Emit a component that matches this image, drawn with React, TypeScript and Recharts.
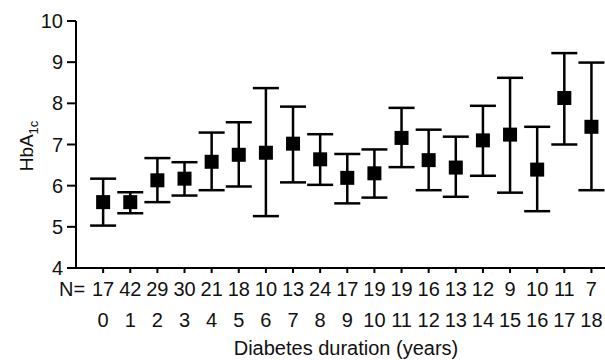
import React from "react";
import { ComposedChart, Scatter, ErrorBar, XAxis, YAxis } from "recharts";

// diabetes duration (years)
const durations = [0, 1, 2, 3, 4, 5, 6, 7, 8, 9, 10, 11, 12, 13, 14, 15, 16, 17, 18];
// number of patients per group
const counts = [17, 42, 29, 30, 21, 18, 10, 13, 24, 17, 19, 19, 16, 13, 12, 9, 10, 11, 7];
// mean HbA1c
const means = [5.6, 5.6, 6.13, 6.17, 6.58, 6.75, 6.8, 7.02, 6.64, 6.19, 6.3, 7.16, 6.62, 6.44, 7.1, 7.24, 6.39, 8.13, 7.43];
// error bar ends
const lows = [5.03, 5.33, 5.6, 5.76, 5.89, 5.98, 5.26, 6.08, 6.02, 5.57, 5.71, 6.45, 5.89, 5.73, 6.24, 5.83, 5.38, 7.0, 5.89];
const highs = [6.17, 5.84, 6.67, 6.57, 7.29, 7.54, 8.37, 7.92, 7.25, 6.77, 6.88, 7.89, 7.36, 7.19, 7.94, 8.62, 7.43, 9.22, 8.99];

const yTicks = [4, 5, 6, 7, 8, 9, 10];

const data = durations.map((d, i) => ({
  x: d,
  y: means[i],
  err: [means[i] - lows[i], highs[i] - means[i]],
}));

const FONT = "'Liberation Sans', Arial, Helvetica, sans-serif";

const Square = (props: any) => {
  const { cx, cy } = props;
  return <rect x={cx - 7} y={cy - 7} width={14} height={14} fill="#000" />;
};

const XTick = (props: any) => {
  const { x, y, index } = props;
  return (
    <g>
      {index === 0 && (
        <text x={x - 18} y={y + 23} textAnchor="end" fontSize={20} fill="#111" fontFamily={FONT}>
          N=
        </text>
      )}
      <text x={x} y={y + 23} textAnchor="middle" fontSize={20} fill="#111" fontFamily={FONT}>
        {counts[index]}
      </text>
      <text x={x} y={y + 54} textAnchor="middle" fontSize={20} fill="#111" fontFamily={FONT}>
        {durations[index]}
      </text>
    </g>
  );
};

const XTitle = (props: any) => {
  const { viewBox } = props;
  return (
    <text x={346} y={viewBox.y + 87} textAnchor="middle" fontSize={20} fill="#111" fontFamily={FONT}>
      Diabetes duration (years)
    </text>
  );
};

const YTitle = () => (
  <text transform="translate(33,146) rotate(-90)" textAnchor="middle" fontSize={19} fill="#111" fontFamily={FONT}>
    HbA<tspan fontSize={13} dy={5}>1c</tspan>
  </text>
);

export default function App() {
  return (
    <div style={{ position: "absolute", left: 0, top: 0, background: "#fff" }}>
      <ComposedChart width={605} height={360} data={data} margin={{ top: 21, right: 0, left: 0, bottom: 0 }}>
        <XAxis
          type="number"
          dataKey="x"
          domain={[-1, 18.5]}
          ticks={durations}
          interval={0}
          allowDataOverflow
          height={92}
          tickSize={5}
          tickMargin={0}
          tick={XTick}
          tickLine={{ stroke: "#000", strokeWidth: 2 }}
          axisLine={{ stroke: "#000", strokeWidth: 2 }}
          label={XTitle}
        />
        <YAxis
          type="number"
          domain={[4, 10]}
          ticks={yTicks}
          width={76}
          tickSize={9}
          tickMargin={4}
          tick={{ fontSize: 20, fill: "#111", fontFamily: FONT }}
          tickLine={{ stroke: "#000", strokeWidth: 2 }}
          axisLine={{ stroke: "#000", strokeWidth: 2 }}
          label={YTitle}
        />
        <Scatter dataKey="y" shape={Square} isAnimationActive={false}>
          <ErrorBar dataKey="err" direction="y" width={13} stroke="#000" strokeWidth={2.5} />
        </Scatter>
      </ComposedChart>
    </div>
  );
}
